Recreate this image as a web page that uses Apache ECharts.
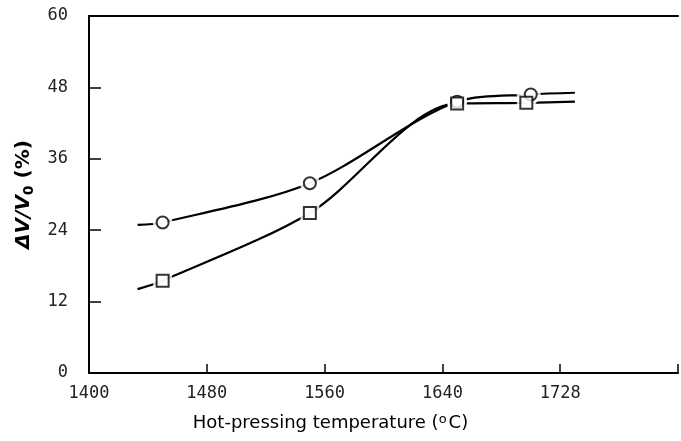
<!DOCTYPE html>
<html>
<head>
<meta charset="utf-8">
<script src="https://cdn.jsdelivr.net/npm/echarts@6/dist/echarts.min.js"></script>
<style>html,body{margin:0;padding:0;background:#fff}#c{width:681px;height:441px}</style>
</head>
<body>
<div id="c"></div>
<script>
// Marker points
const circleT = [1450, 1550, 1650, 1700];
const circleV = [25.3, 31.9, 45.6, 46.8];
const squareT = [1450, 1550, 1650, 1697];
const squareV = [15.5, 26.9, 45.3, 45.4];
// Drawn curves (including the line ends beyond the markers)
const circleCurveT = [1433, 1450, 1550, 1650, 1700, 1730];
const circleCurveV = [24.9, 25.3, 31.9, 45.6, 46.8, 47.1];
const squareCurveT = [1433, 1450, 1550, 1650, 1697, 1730];
const squareCurveV = [14.1, 15.5, 26.9, 45.3, 45.4, 45.6];
// Tick labels
const xTickValues = [1400, 1480, 1560, 1640, 1720];
const xTickLabels = ['1400', '1480', '1560', '1640', '1728'];
const yTickLabels = ['0', '12', '24', '36', '48', '60'];

const zip = (a, b) => a.map((v, i) => [v, b[i]]);
const chart = echarts.init(document.getElementById('c'));
const tickFont = { fontFamily: 'DejaVu Sans Mono', fontSize: 17, color: '#222' };

chart.setOption({
  animation: false,
  backgroundColor: '#fff',
  grid: { left: 89, right: 0, top: 16, bottom: 68 },
  xAxis: [{
    type: 'value', min: 1400, max: 1800, interval: 80,
    axisLine: { show: true, lineStyle: { color: '#000', width: 2 } },
    axisTick: { show: true, inside: true, length: 9, lineStyle: { color: '#000', width: 1.5 } },
    splitLine: { show: false },
    axisLabel: Object.assign({ margin: 12, formatter: v => { const i = xTickValues.indexOf(v); return i >= 0 ? xTickLabels[i] : ''; } }, tickFont),
    name: 'Hot-pressing temperature ({s|o}C)',
    nameLocation: 'middle', nameGap: 40,
    nameTextStyle: { fontFamily: 'DejaVu Sans', fontSize: 18, color: '#000', padding: [0, 106, 0, 0],
      rich: { s: { fontFamily: 'DejaVu Sans', fontSize: 13, verticalAlign: 'top', padding: [0, 2, 8, 0], color: '#000' } } }
  }, {
    type: 'value', position: 'top', min: 1400, max: 1800,
    axisLine: { show: true, onZero: false, lineStyle: { color: '#000', width: 2 } },
    axisTick: { show: false }, axisLabel: { show: false }, splitLine: { show: false }
  }],
  yAxis: {
    type: 'value', min: 0, max: 60, interval: 12,
    axisLine: { show: true, lineStyle: { color: '#000', width: 2 } },
    axisTick: { show: true, inside: true, length: 12, lineStyle: { color: '#000', width: 1.5 } },
    splitLine: { show: false },
    axisLabel: Object.assign({ margin: 21, formatter: v => yTickLabels[Math.round(v / 12)] }, tickFont),
    name: '{i|ΔV/V}{sub|0}{t| (%)}',
    nameLocation: 'middle', nameGap: 50,
    nameTextStyle: { fontFamily: 'DejaVu Sans', fontSize: 20, fontWeight: 'bold', color: '#000',
      rich: {
        i: { fontFamily: 'DejaVu Sans', fontSize: 20, lineHeight: 26, fontWeight: 'bold', fontStyle: 'italic', color: '#000' },
        sub: { fontFamily: 'DejaVu Sans', fontSize: 14, lineHeight: 26, fontWeight: 'bold', verticalAlign: 'bottom', color: '#000' },
        t: { fontFamily: 'DejaVu Sans', fontSize: 20, lineHeight: 26, fontWeight: 'bold', color: '#000' }
      } }
  },
  series: [
    { type: 'line', smooth: 0.3, data: zip(circleCurveT, circleCurveV), showSymbol: false, z: 2,
      lineStyle: { color: '#000', width: 2.2 } },
    { type: 'line', smooth: 0.3, data: zip(squareCurveT, squareCurveV), showSymbol: false, z: 2,
      lineStyle: { color: '#000', width: 2.2 } },
    { type: 'scatter', data: zip(circleT, circleV), symbol: 'circle', symbolSize: 20, z: 3,
      itemStyle: { color: '#fff', borderWidth: 0 } },
    { type: 'scatter', data: zip(squareT, squareV), symbol: 'rect', symbolSize: 19, z: 3,
      itemStyle: { color: '#fff', borderWidth: 0 } },
    { type: 'scatter', data: zip(circleT, circleV), symbol: 'circle', symbolSize: 12, z: 4,
      itemStyle: { color: '#fff', borderColor: '#000', borderWidth: 2 } },
    { type: 'scatter', data: zip(squareT, squareV), symbol: 'rect', symbolSize: 12, z: 4,
      itemStyle: { color: '#fff', borderColor: '#000', borderWidth: 2 } }
  ]
});
</script>
</body>
</html>
